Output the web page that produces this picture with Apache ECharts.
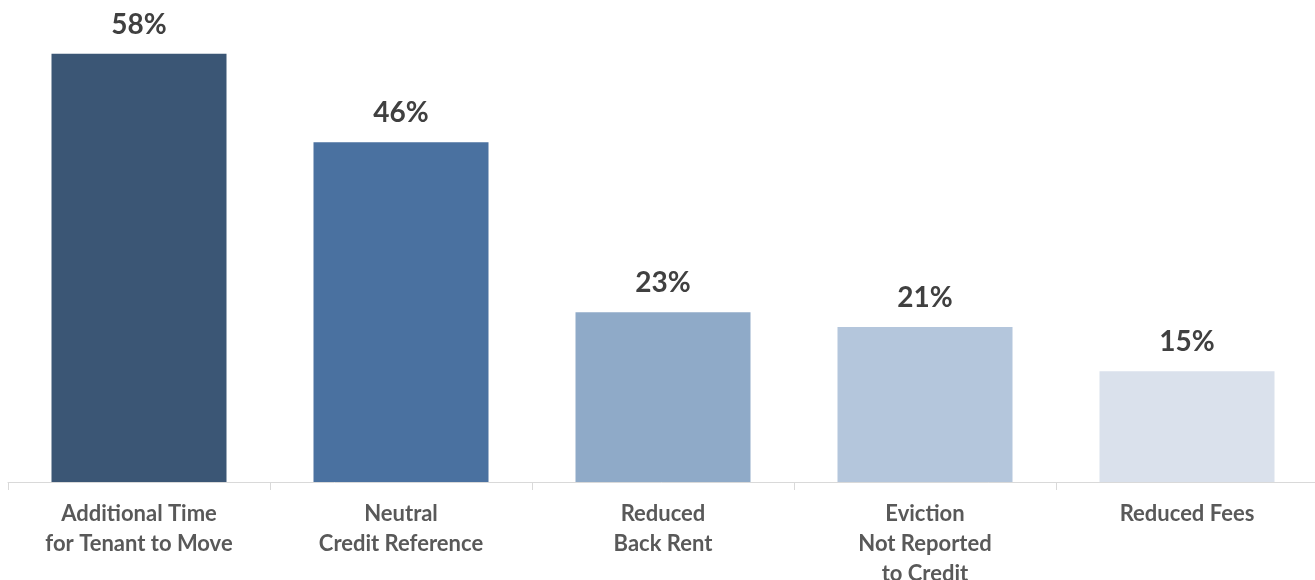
<!DOCTYPE html>
<html>
<head>
<meta charset="utf-8">
<script src="https://cdn.jsdelivr.net/npm/echarts@6/dist/echarts.min.js"></script>
<style>
  html, body { margin: 0; padding: 0; background: #fff; }
  #chart { width: 1315px; height: 580px; }
</style>
</head>
<body>
<div id="chart"></div>
<script>
  // categories + values
  var categories = [
    'Additional Time\nfor Tenant to Move',
    'Neutral\nCredit Reference',
    'Reduced\nBack Rent',
    'Eviction\nNot Reported\nto Credit',
    'Reduced Fees'
  ];
  var values = [58, 46, 23, 21, 15];
  var barColors = ['#3b5675', '#4a71a0', '#8faac8', '#b4c6dc', '#dae1ec'];

  var chart = echarts.init(document.getElementById('chart'));
  var option = {
    animation: false,
    grid: { left: 8, width: 1310, top: 39, bottom: 98, outerBoundsMode: 'none', containLabel: false },
    xAxis: {
      type: 'category',
      data: categories,
      axisLine: { lineStyle: { color: '#d9d9d9', width: 1 } },
      axisTick: { show: true, length: 8, lineStyle: { color: '#d9d9d9' } },
      axisLabel: {
        interval: 0,
        margin: 17,
        color: '#595959',
        fontFamily: 'Lato',
        fontWeight: 'bold',
        fontSize: 22,
        lineHeight: 30
      }
    },
    yAxis: {
      type: 'value',
      min: 0,
      max: 60,
      show: false,
      splitLine: { show: false }
    },
    series: [{
      type: 'bar',
      barWidth: 175,
      data: values.map(function (v, i) {
        return { value: v, itemStyle: { color: barColors[i] } };
      }),
      label: {
        show: true,
        position: 'top',
        distance: 15,
        formatter: '{c}%',
        color: '#404040',
        fontFamily: 'Lato',
        fontWeight: 'bold',
        fontSize: 28,
        lineHeight: 28
      }
    }]
  };
  chart.setOption(option);
</script>
</body>
</html>
